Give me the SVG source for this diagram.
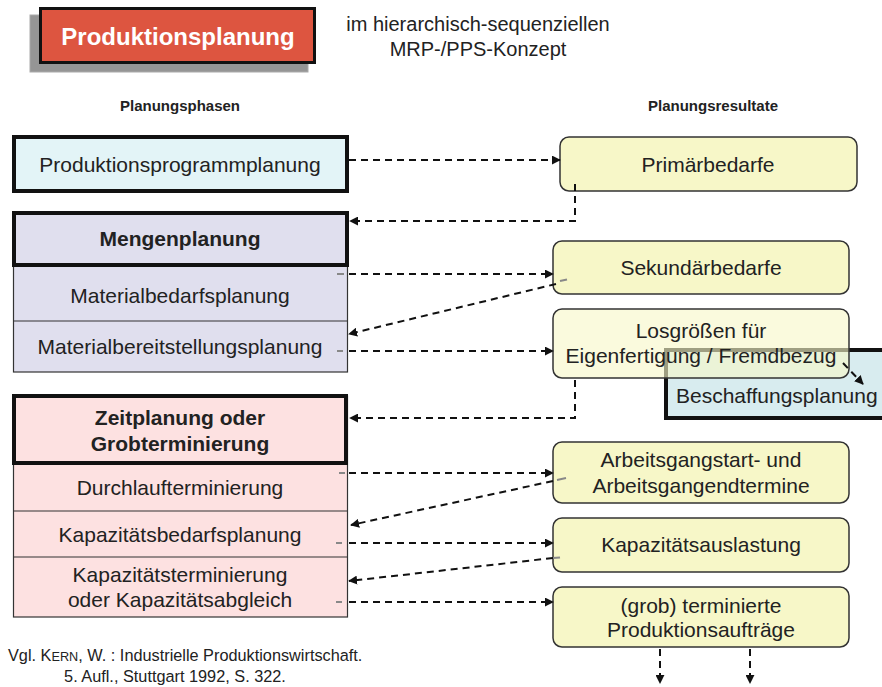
<svg xmlns="http://www.w3.org/2000/svg" width="882" height="687" viewBox="0 0 882 687">
<defs>
<marker id="ah" viewBox="0 0 10 10" refX="9" refY="5" markerWidth="4.5" markerHeight="4.5" orient="auto" markerUnits="strokeWidth">
<path d="M0,0 L10,5 L0,10 z" fill="#111"/>
</marker>
<style>
text{font-family:"Liberation Sans",Arial,sans-serif;fill:#222;}
.t{font-size:21px;text-anchor:middle;}
.b{font-size:21px;font-weight:bold;text-anchor:middle;}
.h{font-size:15px;font-weight:bold;text-anchor:middle;}
.thick{stroke:#111;stroke-width:4;fill:none;}
.thin{stroke:#333;stroke-width:1.2;}
.res{fill:#f7f7c8;stroke:#333;stroke-width:1.5;}
.ca{fill:none;stroke:#111;stroke-width:2;stroke-dasharray:7 5;marker-end:url(#ah);}
.tick{stroke:#888;stroke-width:2;fill:none;}
</style>
</defs>
<rect width="882" height="687" fill="#fff"/>

<g id="title">
<rect x="30" y="15" width="278" height="57" fill="#959595" stroke="#aaa" stroke-width="1"/>
<rect x="40.5" y="8.5" width="274" height="54" fill="#dd5540" stroke="#111" stroke-width="3"/>
<text x="178" y="45" style="font-size:24px;font-weight:bold;text-anchor:middle;fill:#fff">Produktionsplanung</text>
</g>
<g id="subtitle">
<text x="478" y="31" style="font-size:20px;text-anchor:middle">im hierarchisch-sequenziellen</text>
<text x="478" y="56" style="font-size:20px;text-anchor:middle">MRP-/PPS-Konzept</text>
</g>
<g id="headers">
<text class="h" x="180" y="111">Planungsphasen</text>
<text class="h" x="713" y="111">Planungsresultate</text>
</g>

<g id="produktionsprogrammplanung">
<rect x="14" y="137" width="333" height="54" class="thick" style="fill:#e3f4f7"/>
<text class="t" x="180" y="172">Produktionsprogrammplanung</text>
</g>

<g id="mengenplanung">
<rect x="13.5" y="213" width="334" height="159" fill="#e0dfee" class="thin"/>
<line x1="13.5" y1="321" x2="347.5" y2="321" class="thin"/>
<rect x="14" y="213" width="333" height="52" class="thick"/>
<text class="b" x="180" y="246">Mengenplanung</text>
<text class="t" x="180" y="303">Materialbedarfsplanung</text>
<text class="t" x="180" y="354">Materialbereitstellungsplanung</text>
</g>

<g id="zeitplanung">
<rect x="13.5" y="396" width="334" height="221" fill="#fde1e1" class="thin"/>
<line x1="13.5" y1="511" x2="347.5" y2="511" class="thin"/>
<line x1="13.5" y1="557" x2="347.5" y2="557" class="thin"/>
<rect x="14" y="396" width="332" height="67" class="thick"/>
<text class="b" x="180" y="425">Zeitplanung oder</text>
<text class="b" x="180" y="451">Grobterminierung</text>
<text class="t" x="180" y="495">Durchlaufterminierung</text>
<text class="t" x="180" y="542">Kapazitätsbedarfsplanung</text>
<text class="t" x="180" y="582">Kapazitätsterminierung</text>
<text class="t" x="180" y="607">oder Kapazitätsabgleich</text>
</g>

<g id="primaerbedarfe">
<rect x="560" y="137" width="297" height="54" rx="9" class="res"/>
<text class="t" x="708" y="172">Primärbedarfe</text>
</g>
<g id="sekundaerbedarfe">
<rect x="553" y="241" width="296" height="53" rx="9" class="res"/>
<text class="t" x="701" y="275">Sekundärbedarfe</text>
</g>
<g id="beschaffungsplanung">
<rect x="666" y="350" width="230" height="68" fill="#d8ecef" stroke="#111" stroke-width="4"/>
<text x="676" y="403" style="font-size:21px">Beschaffungsplanung</text>
</g>
<g id="losgroessen">
<rect x="553" y="309" width="296" height="69" rx="9" class="res" style="fill-opacity:0.62"/>
<text class="t" x="701" y="338">Losgrößen für</text>
<text class="t" x="701" y="363">Eigenfertigung / Fremdbezug</text>
</g>
<g id="arbeitsgangtermine">
<rect x="553" y="442" width="296" height="61" rx="9" class="res"/>
<text class="t" x="701" y="467">Arbeitsgangstart- und</text>
<text class="t" x="701" y="493">Arbeitsgangendtermine</text>
</g>
<g id="kapazitaetsauslastung">
<rect x="553" y="518" width="296" height="54" rx="9" class="res"/>
<text class="t" x="701" y="552">Kapazitätsauslastung</text>
</g>
<g id="produktionsauftraege">
<rect x="553" y="587" width="296" height="60" rx="9" class="res"/>
<text class="t" x="701" y="613">(grob) terminierte</text>
<text class="t" x="701" y="637">Produktionsaufträge</text>
</g>

<g id="connectors">
<path class="ca" d="M349,160 H560"/>
<path class="ca" d="M575,184 V221 H350"/>
<line class="tick" x1="337" y1="274" x2="344" y2="274"/>
<path class="ca" d="M349,274 H553"/>
<line class="tick" x1="560" y1="281" x2="567" y2="279.5"/>
<path class="ca" d="M556,284 L349,334"/>
<line class="tick" x1="337" y1="351" x2="343" y2="351"/>
<path class="ca" d="M349,351 H553"/>
<path class="ca" d="M843,363 L863,384"/>
<path class="ca" d="M575,380 V418 H350"/>
<line class="tick" x1="339" y1="473" x2="345" y2="473"/>
<path class="ca" d="M349,473 H553"/>
<line class="tick" x1="557" y1="480" x2="566" y2="478"/>
<path class="ca" d="M553,481 L351,525"/>
<line class="tick" x1="336" y1="543" x2="342" y2="543"/>
<path class="ca" d="M349,543 H553"/>
<line class="tick" x1="553" y1="558" x2="560" y2="557.5"/>
<path class="ca" d="M553,558 L349,581"/>
<line class="tick" x1="336" y1="602" x2="342" y2="602"/>
<path class="ca" d="M349,602 H553"/>
<path class="ca" d="M660,649 V683"/>
<path class="ca" d="M750,649 V683"/>
</g>

<g id="footnote">
<text x="8" y="661" style="font-size:16.3px">Vgl. K<tspan style="font-size:12.7px">ERN</tspan>, W. : Industrielle Produktionswirtschaft.</text>
<text x="175" y="682" style="font-size:16.3px;text-anchor:middle">5. Aufl., Stuttgart 1992, S. 322.</text>
</g>
</svg>
